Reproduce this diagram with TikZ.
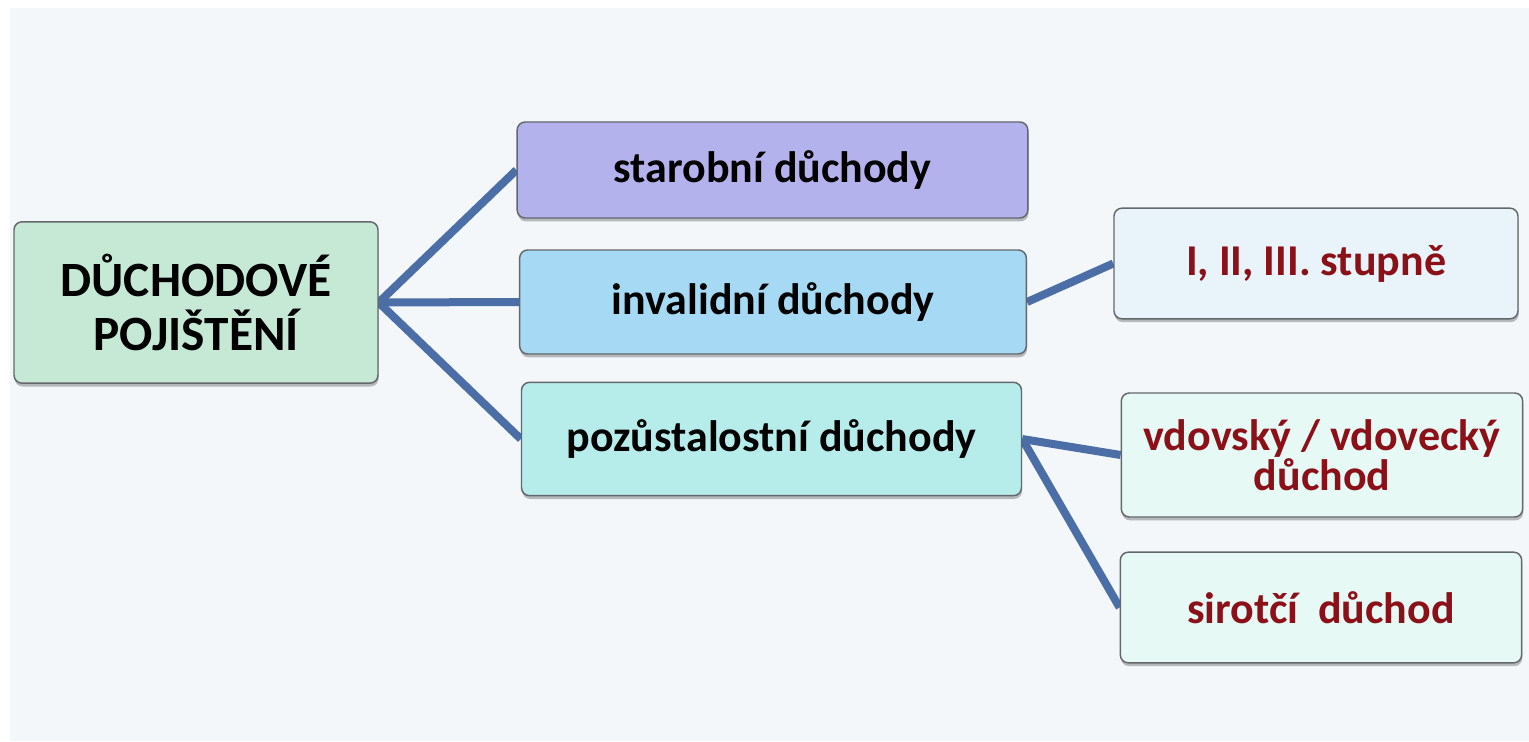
\documentclass[tikz,border=0pt]{standalone}
\usepackage{fontspec}
\setmainfont{Carlito}
\usepackage{tikz}
\usetikzlibrary{shadows}
\pgfdeclarelayer{bg}
\pgfdeclarelayer{lines}
\pgfsetlayers{bg,lines,main}
\definecolor{mback}{RGB}{243,247,250}
\definecolor{mline}{RGB}{74,110,165}
\definecolor{mborder}{RGB}{100,104,108}
\definecolor{mtext}{RGB}{140,16,24}
\definecolor{mroot}{RGB}{198,233,214}
\definecolor{mstaro}{RGB}{180,178,236}
\definecolor{minval}{RGB}{166,218,244}
\definecolor{mpozu}{RGB}{182,236,234}
\definecolor{mstup}{RGB}{232,244,250}
\definecolor{mdruh}{RGB}{230,249,245}
\tikzset{box/.style = {draw=mborder, line width=1.1pt, rounded corners=6pt,
                       inner sep=0, align=center, font=\bfseries,
                       drop shadow={shadow xshift=0.5pt, shadow yshift=-2.5pt,
                                    fill=black, opacity=0.25}}}
\tikzset{mid/.style = {box, font=\fontsize{33}{30}\selectfont\bfseries}}
\tikzset{leaf/.style = {box, fill=mdruh, text=mtext,
                        font=\fontsize{33}{30}\selectfont\bfseries}}
\tikzset{conn/.style = {mline, line width=6pt}}

\begin{document}
\begin{tikzpicture}[x=0.75pt, y=-0.75pt]
          \useasboundingbox (0, 0) rectangle (1529, 742);
          \begin{pgfonlayer}{bg}
            \fill [mback] (10, 8) rectangle (1529, 741);
          \end{pgfonlayer}

          \node [box, fill=mroot, font=\fontsize{37}{41}\selectfont\bfseries,
                 minimum width=273pt, minimum height=121pt]
                (root) at (196, 302.5) {DŮCHODOVÉ\\POJIŠTĚNÍ};

          \node [mid, fill=mstaro, minimum width=383pt, minimum height=72pt]
                (staro) at (772.5, 170) {starobní důchody};
          \node [mid, fill=minval, minimum width=380pt, minimum height=78pt]
                (inval) at (773, 302) {invalidní důchody};
          \node [mid, fill=mpozu, minimum width=375pt, minimum height=85pt]
                (pozu) at (771.5, 439) {pozůstalostní důchody};

          \node [leaf, fill=mstup, minimum width=303pt, minimum height=83pt]
                (stup) at (1316, 263.5) {I, II, III. stupně};
          \node [leaf, minimum width=301pt, minimum height=93pt]
                (vdov) at (1322, 455) {vdovský / vdovecký\\důchod};
          \node [leaf, minimum width=301pt, minimum height=83pt]
                (sirot) at (1321, 607.5) {sirotčí\ \ důchod};

          \begin{pgfonlayer}{lines}
            \draw [conn] (root.east) -- (staro.west);
            \draw [conn] (root.east) -- (inval.west);
            \draw [conn] (root.east) -- (pozu.west);
            \draw [conn] (inval.east) -- (stup.west);
            \draw [conn] (pozu.east) -- (vdov.west);
            \draw [conn] (pozu.east) -- (sirot.west);
          \end{pgfonlayer}
        \end{tikzpicture}
\end{document}
